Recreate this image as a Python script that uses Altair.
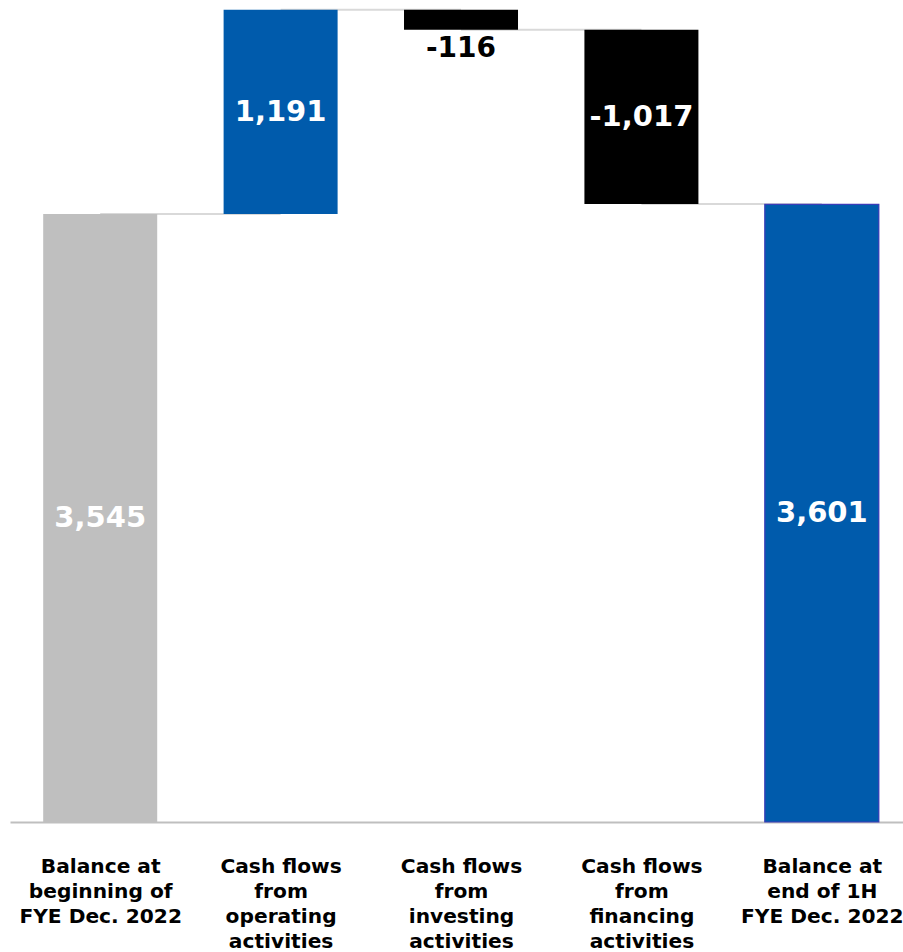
import altair as alt
import pandas as pd

categories = [
    "Balance at|beginning of|FYE Dec. 2022",
    "Cash flows|from|operating|activities",
    "Cash flows|from|investing|activities",
    "Cash flows|from|financing|activities",
    "Balance at|end of 1H|FYE Dec. 2022",
]
amounts = [3545, 1191, -116, -1017, 3601]
kinds = ["total", "delta", "delta", "delta", "total"]
value_labels = ["3,545", "1,191", "-116", "-1,017", "3,601"]
bar_colors = ["#BFBFBF", "#005BAC", "#000000", "#000000", "#005BAC"]
label_colors = ["#FFFFFF", "#FFFFFF", "#000000", "#FFFFFF", "#FFFFFF"]
label_inside = [1, 1, 0, 1, 1]

rows = []
running = 0
for i, (amt, kind, vl, bc, lc, ins) in enumerate(zip(amounts, kinds, value_labels,
                                                     bar_colors, label_colors, label_inside)):
    if kind == "total":
        start, end = 0, amt
        running = amt
    else:
        start, end = running, running + amt
        running = end
    rows.append(dict(idx=i, start=start, end=end, mid=(start + end) / 2,
                     low=min(start, end), label=vl, color=bc, lcolor=lc,
                     inside=ins))
df = pd.DataFrame(rows)

conn = pd.DataFrame([
    dict(a=i, b=i + 1, level=rows[i]["end"]) for i in range(len(categories) - 1)
])

cat_js = "[" + ",".join("'" + c + "'" for c in categories) + "]"

xscale = alt.Scale(domain=[-0.5, 4.45], nice=False, zero=False, padding=0)
yscale = alt.Scale(domain=[0, 4793], nice=False, zero=True, padding=0)

xaxis = alt.Axis(values=list(range(len(categories))),
                 labelExpr="split(" + cat_js + "[datum.value], '|')",
                 labelAngle=0, labelFont="DejaVu Sans", labelFontWeight="bold",
                 labelFontSize=20.2, labelColor="#000000", labelLineHeight=25,
                 labelPadding=34, ticks=False, domainColor="#BFBFBF",
                 domainWidth=2, labelBaseline="top", grid=False,
                 labelFlush=False, labelOverlap=False)

connectors = alt.Chart(conn).mark_rule(color="#D9D9D9", strokeWidth=2).encode(
    x=alt.X("a:Q", scale=xscale, axis=xaxis, title=None),
    x2="b:Q",
    y=alt.Y("level:Q", scale=yscale, axis=None),
)

bars = alt.Chart(df).mark_bar(size=114).encode(
    x=alt.X("idx:Q", scale=xscale),
    y=alt.Y("start:Q", scale=yscale),
    y2="end:Q",
    color=alt.Color("color:N", scale=None),
)

final_border = alt.Chart(df[df.idx == len(categories) - 1]).mark_bar(
    size=114, fill="#005BAC", stroke="#3C3CB8", strokeWidth=1.2).encode(
    x=alt.X("idx:Q", scale=xscale),
    y=alt.Y("start:Q", scale=yscale),
    y2="end:Q",
)

inside_labels = alt.Chart(df[df.inside == 1]).mark_text(
    font="DejaVu Sans", fontWeight="bold", fontSize=29, baseline="middle",
    dy=0).encode(
    x=alt.X("idx:Q", scale=xscale),
    y=alt.Y("mid:Q", scale=yscale),
    text="label:N",
    color=alt.Color("lcolor:N", scale=None),
)

outside_labels = alt.Chart(df[df.inside == 0]).mark_text(
    font="DejaVu Sans", fontWeight="bold", fontSize=28, baseline="middle",
    dy=19).encode(
    x=alt.X("idx:Q", scale=xscale),
    y=alt.Y("low:Q", scale=yscale),
    text="label:N",
    color=alt.Color("lcolor:N", scale=None),
)

chart = alt.layer(connectors, bars, final_border, inside_labels, outside_labels).properties(
    width=893, height=822,
    padding={"left": 10, "top": 0, "right": 0, "bottom": 130},
    autosize=alt.AutoSizeParams(type="none"),
    background="#FFFFFF",
).configure_view(stroke=None)

chart.save("out.html", embed_options={"renderer": "svg", "actions": False})
